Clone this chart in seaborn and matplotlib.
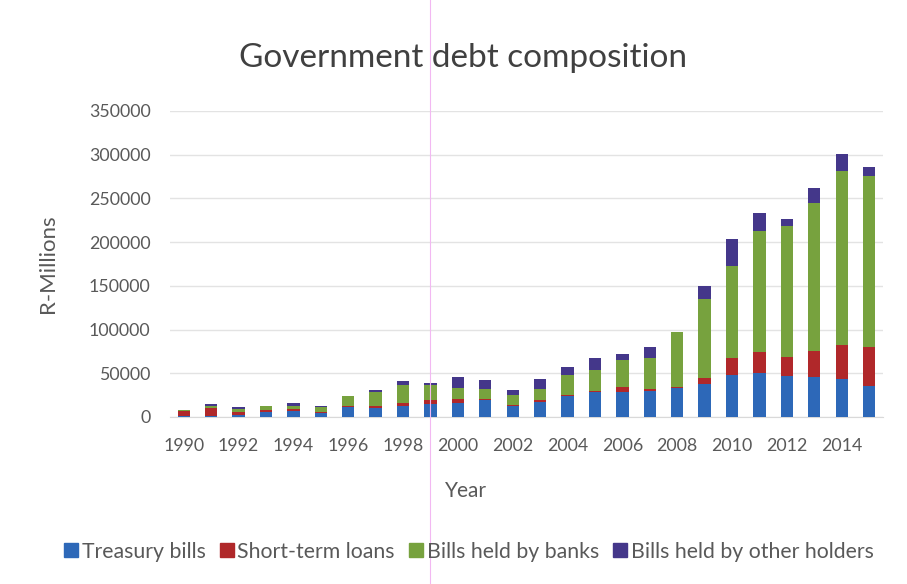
import numpy as np
import pandas as pd
import matplotlib
matplotlib.use("Agg")
import matplotlib.pyplot as plt
from matplotlib.lines import Line2D
import seaborn as sns

years = list(range(1990, 2016))
treasury_bills = [1000, 1000, 2000, 6000, 7000, 5000, 11000, 10000, 12000, 15000, 16000, 19000, 13000,
                  17000, 24000, 28000, 29000, 30000, 33000, 38000, 48000, 50000, 47000, 46000, 44000, 35000]
short_term_loans = [6000, 9000, 4000, 2000, 2000, 1000, 2000, 3000, 4000, 4000, 4000, 1000, 1000,
                    2000, 1000, 2000, 5000, 2000, 1000, 7000, 20000, 24000, 22000, 30000, 38000, 45000]
bills_banks = [1000, 2000, 3000, 4000, 4000, 5000, 11000, 16000, 21000, 18000, 13000, 12000, 11000,
               13000, 23000, 24000, 31000, 36000, 63000, 90000, 105000, 139000, 149000, 169000, 199000, 196000]
bills_other = [0, 3000, 2000, 1000, 3000, 2000, 500, 2000, 4000, 2000, 13000, 10000, 6000,
               11000, 9000, 14000, 7000, 12000, 0, 15000, 30000, 20000, 8000, 17000, 20000, 10000]

series_names = ["Treasury bills", "Short-term loans", "Bills held by banks", "Bills held by other holders"]
series_values = [treasury_bills, short_term_loans, bills_banks, bills_other]
colors = ["#2D68B8", "#B0282A", "#77A23E", "#44378A"]

text_color = "#595959"
plt.rcParams["font.family"] = ["Lato", "DejaVu Sans"]

fig = plt.figure(figsize=(9.07, 5.84), dpi=100)
ax = fig.add_axes([0.1874, 0.286, 0.786, 0.524])

labels = [str(y) for y in years]
bottom = np.zeros(len(years))
for name, vals, col in zip(series_names, series_values, colors):
    df = pd.DataFrame({"Year": labels, "value": vals})
    sns.barplot(data=df, x="Year", y="value", order=labels, color=col,
                bottom=bottom, width=0.45, errorbar=None, saturation=1,
                ax=ax, zorder=3)
    bottom = bottom + np.array(vals)

ax.set_ylim(0, 350000)
ax.set_xlim(-0.5, len(years) - 0.5)
ax.set_yticks(np.arange(0, 350001, 50000))
ax.set_yticklabels([str(v) for v in range(0, 350001, 50000)])
ax.set_xticks(range(0, len(years), 2))
ax.set_xticklabels(labels[::2])
ax.tick_params(axis="both", length=0, labelsize=12.8, colors=text_color)
ax.tick_params(axis="x", pad=15)
ax.tick_params(axis="y", pad=14)
ax.grid(axis="y", color="#E3E3E3", linewidth=1, zorder=0)
ax.set_axisbelow(True)
for side in ["top", "right", "left"]:
    ax.spines[side].set_visible(False)
ax.spines["bottom"].set_color("#D9D9D9")

ax.set_xlabel("Year", fontsize=15, color=text_color)
ax.set_ylabel("R-Millions", fontsize=16, color=text_color)
ax.xaxis.set_label_coords(0.415, -0.21)
ax.yaxis.set_label_coords(-0.157, 0.5)
fig.text(0.51, 0.9, "Government debt composition", ha="center", va="center",
         fontsize=24, color="#404040")

handles = [Line2D([0], [0], marker="s", linestyle="none", markersize=9.5,
                  markerfacecolor=c, markeredgecolor=c) for c in colors]
fig.legend(handles, series_names, loc="center", bbox_to_anchor=(0.515, 0.055),
           ncol=4, frameon=False, fontsize=15.3, handletextpad=0.0,
           columnspacing=0.5, handlelength=1.0, labelcolor=text_color)

# faint vertical line crossing the page
fig.add_artist(Line2D([0.474, 0.474], [0, 1], transform=fig.transFigure,
                      color="#F2B8F2", linewidth=0.8))

fig.savefig("out.png", dpi=100, facecolor="white")
